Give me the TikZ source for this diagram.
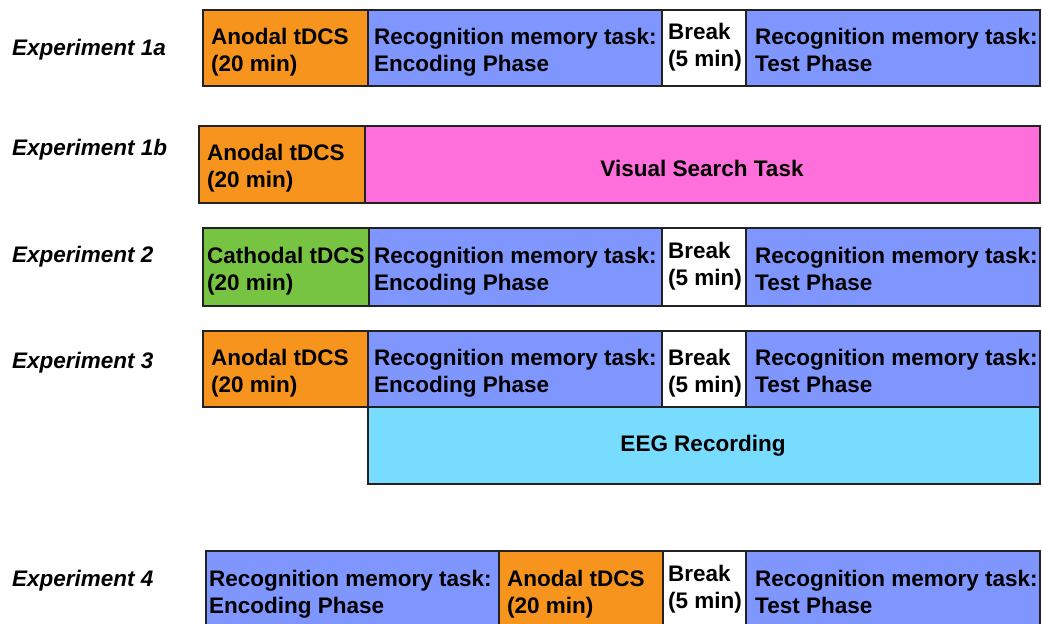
\documentclass[tikz,border=0pt]{standalone}
\usepackage{fontspec}
\setmainfont{Liberation Sans}
\definecolor{orng}{HTML}{F7941D}
\definecolor{blu}{HTML}{7F96FF}
\definecolor{pnk}{HTML}{FF6FDC}
\definecolor{grn}{HTML}{76C442}
\definecolor{cyn}{HTML}{78DCFF}
\definecolor{edgec}{HTML}{222222}
\tikzset{
  blk/.style={draw=edgec, line width=1.3pt, inner sep=0pt, outer sep=0pt, anchor=north west},
  txt/.style={inner sep=0pt, anchor=north west, align=left, font=\fontsize{22.5}{27.5}\selectfont\bfseries},
  ctxt/.style={inner sep=0pt, font=\fontsize{22.5}{27.5}\selectfont\bfseries},
  lab/.style={inner sep=0pt, anchor=base west, font=\fontsize{22.5}{27}\selectfont\bfseries\itshape},
}
\newcommand\seg[6]{\node[blk, fill=#6, minimum width={(#4)-(#2)}, minimum height={(#5)-(#3)}] (#1) at (#2,#3) {};}
\newcommand\tx[4]{\node[txt] (#1) at (#2,#3-17) {\rule{0pt}{17pt}#4};}
\begin{document}
\begin{tikzpicture}[x=1pt,y=-1pt]
\useasboundingbox (0,0) rectangle (1042,624);
\clip (0,0) rectangle (1042,624);
% labels
\node[lab] (l1a) at (12,55) {Experiment 1a};
\node[lab] (l1b) at (12,155) {Experiment 1b};
\node[lab] (l2) at (12,262) {Experiment 2};
\node[lab] (l3) at (12,368) {Experiment 3};
\node[lab] (l4) at (12,586) {Experiment 4};
% Experiment 1a
\seg{a1}{203}{10}{368}{86}{orng}
\seg{a2}{368}{10}{662}{86}{blu}
\seg{a3}{662}{10}{746}{86}{white}
\seg{a4}{746}{10}{1040}{86}{blu}
\tx{a1t}{211}{44}{Anodal tDCS\\(20 min)}
\tx{a2t}{374}{44}{Recognition memory task:\\Encoding Phase}
\tx{a3t}{668}{39}{Break\\(5 min)}
\tx{a4t}{755}{44}{Recognition memory task:\\Test Phase}
% Experiment 1b
\seg{b1}{199}{126}{365}{203}{orng}
\seg{b2}{365}{126}{1040}{203}{pnk}
\tx{b1t}{207}{160}{Anodal tDCS\\(20 min)}
\node[ctxt] (b2t) at (702,168) {Visual Search Task};
% Experiment 2
\seg{c1}{203}{228}{369}{306}{grn}
\seg{c2}{369}{228}{662}{306}{blu}
\seg{c3}{662}{228}{746}{306}{white}
\seg{c4}{746}{228}{1040}{306}{blu}
\tx{c1t}{207}{263}{Cathodal tDCS\\(20 min)}
\tx{c2t}{374}{263}{Recognition memory task:\\Encoding Phase}
\tx{c3t}{668}{258}{Break\\(5 min)}
\tx{c4t}{755}{263}{Recognition memory task:\\Test Phase}
% Experiment 3
\seg{d1}{203}{331}{368}{407}{orng}
\seg{d2}{368}{331}{662}{407}{blu}
\seg{d3}{662}{331}{746}{407}{white}
\seg{d4}{746}{331}{1040}{407}{blu}
\seg{d5}{368}{407}{1040}{484}{cyn}
\tx{d1t}{211}{365}{Anodal tDCS\\(20 min)}
\tx{d2t}{374}{365}{Recognition memory task:\\Encoding Phase}
\tx{d3t}{668}{365}{Break\\(5 min)}
\tx{d4t}{755}{365}{Recognition memory task:\\Test Phase}
\node[ctxt] (d5t) at (703,446) {EEG Recording};
% Experiment 4
\seg{e1}{206}{551}{499}{640}{blu}
\seg{e2}{499}{551}{663}{640}{orng}
\seg{e3}{663}{551}{746}{640}{white}
\seg{e4}{746}{551}{1040}{640}{blu}
\tx{e1t}{209}{586}{Recognition memory task:\\Encoding Phase}
\tx{e2t}{507}{586}{Anodal tDCS\\(20 min)}
\tx{e3t}{668}{581}{Break\\(5 min)}
\tx{e4t}{755}{586}{Recognition memory task:\\Test Phase}
\end{tikzpicture}
\end{document}
